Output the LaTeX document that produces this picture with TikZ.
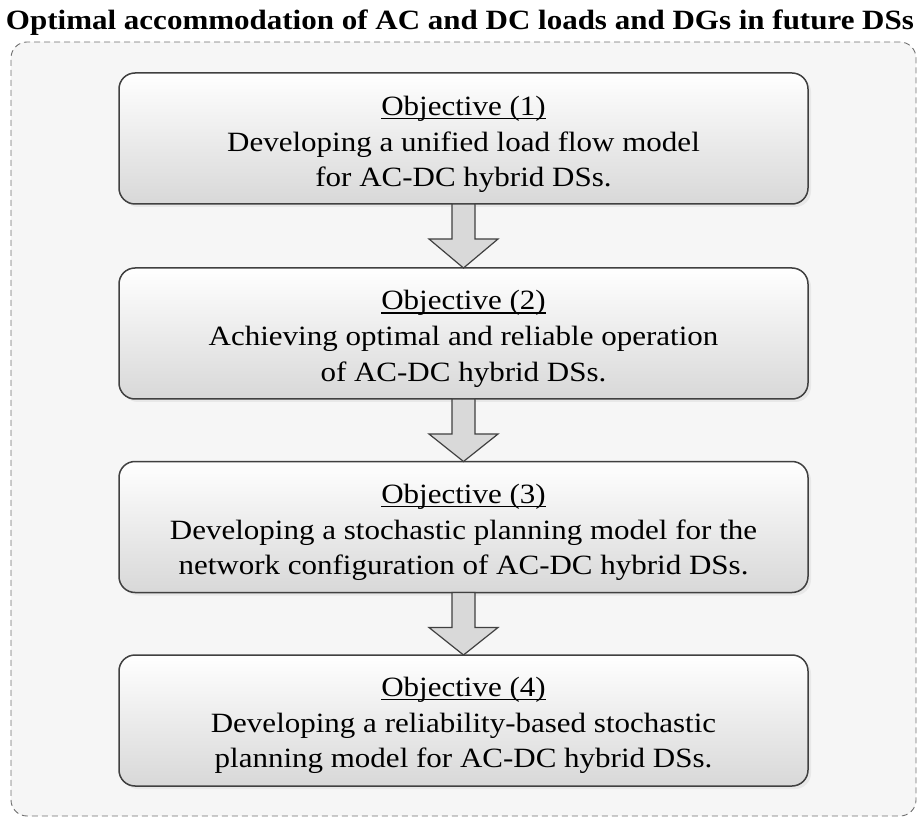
\documentclass[tikz,border=0pt]{standalone}
\usepackage{fontspec}
\setmainfont{Liberation Serif}
\usepackage{graphicx}
\usetikzlibrary{calc,shadows}

\definecolor{edge}{HTML}{404040}
\definecolor{panel}{HTML}{F6F6F6}
\definecolor{dashgray}{HTML}{707070}
\definecolor{boxbottom}{HTML}{D8D8D8}
\definecolor{arrowfill}{HTML}{D9D9D9}

% underline set a little below the baseline
\newcommand\objul[1]{\setbox0\hbox{#1}\rlap{\rule[-4pt]{\wd0}{1.4pt}}\box0}
% three-line objective text, set a little flatter than wide
\newcommand\objtext[3]{\scalebox{1}[0.9]{\fontsize{31}{39.6}\selectfont
  \begin{tabular}{@{}c@{}}\objul{Objective (#1)}\\#2\\#3\end{tabular}}}

% block arrow from the bottom of one box to the top of the next
\newcommand\flowarrow[2]{%
  \draw[blockarrow] ($(#1.south)+(-11.5,0)$) -- ($(#1.south)+(11.5,0)$)
    -- ($(#1.south)+(11.5,35)$) -- ($(#1.south)+(34.5,35)$) -- (#2.north)
    -- ($(#1.south)+(-34.5,35)$) -- ($(#1.south)+(-11.5,35)$) -- cycle;}

\tikzset{
  frame/.style={draw=dashgray, dash pattern=on 6pt off 4pt, line width=0.9pt,
    fill=panel, rounded corners=16pt, minimum width=905pt, minimum height=774pt,
    inner sep=0pt, outer sep=0pt},
  objbox/.style={draw=edge, line width=1.5pt, rounded corners=16pt,
    top color=white, bottom color=boxbottom,
    minimum width=689pt, minimum height=131pt, inner sep=0pt, outer sep=0pt,
    drop shadow={shadow xshift=3pt, shadow yshift=-3pt, fill=black!9, opacity=1}},
  objlabel/.style={inner sep=0pt, text=black},
  blockarrow/.style={draw=edge, line width=1.2pt, fill=arrowfill, line join=miter},
}

\begin{document}
\begin{tikzpicture}[x=1pt, y=-1pt]
\useasboundingbox (0,0) rectangle (919,818);

\node[anchor=base, inner sep=0pt] (title) at (460,30)
  {\scalebox{1}[0.9]{\fontsize{31}{36}\selectfont\bfseries
   Optimal accommodation of AC and DC loads and DGs in future DSs}};

\node[frame] (panel) at (463.5,429) {};

\node[objbox] (b1) at (463.5,138.5) {};
\node[objbox] (b2) at (463.5,333.5) {};
\node[objbox] (b3) at (463.5,527) {};
\node[objbox] (b4) at (463.5,720.5) {};

\node[objlabel] (t1) at ($(b1.center)+(0,5.5)$)
  {\objtext{1}{Developing a unified load flow model}{for AC-DC hybrid DSs.}};
\node[objlabel] (t2) at ($(b2.center)+(0,5)$)
  {\objtext{2}{Achieving optimal and reliable operation}{of AC-DC hybrid DSs.}};
\node[objlabel] (t3) at ($(b3.center)+(0,5)$)
  {\objtext{3}{Developing a stochastic planning model for the}{network configuration of AC-DC hybrid DSs.}};
\node[objlabel] (t4) at ($(b4.center)+(0,4.5)$)
  {\objtext{4}{Developing a reliability-based stochastic}{planning model for AC-DC hybrid DSs.}};

\flowarrow{b1}{b2}
\flowarrow{b2}{b3}
\flowarrow{b3}{b4}
\end{tikzpicture}
\end{document}
